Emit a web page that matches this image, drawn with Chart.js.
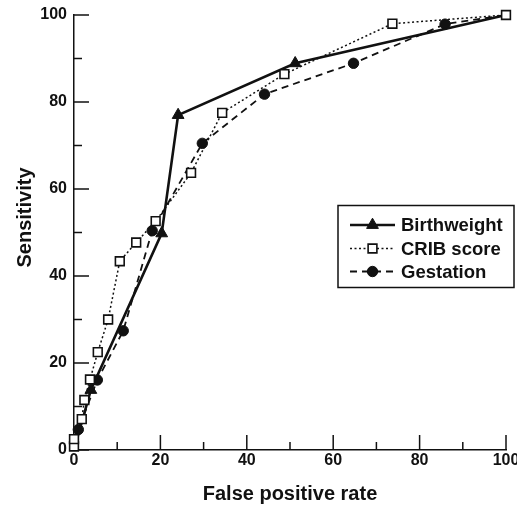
<!DOCTYPE html>
<html><head><meta charset="utf-8">
<script src="https://cdn.jsdelivr.net/npm/chart.js@4"></script>
<style>html,body{margin:0;padding:0;background:#fff;} canvas{display:block}</style>
</head><body>
<canvas id="c" width="517" height="506"></canvas>
<script>
// ---- data ----
const seriesNames = ['Birthweight', 'CRIB score', 'Gestation'];
const birthweightX = [0, 3.9, 20.3, 24.1, 51.2, 100];
const birthweightY = [0, 13.8, 49.8, 77.0, 88.9, 100];
const cribX = [0, 0, 1.8, 2.4, 3.7, 5.5, 7.9, 10.6, 14.4, 18.9, 27.1, 34.3, 48.7, 73.7, 100];
const cribY = [0.8, 2.5, 7.1, 11.5, 16.2, 22.5, 30.0, 43.4, 47.7, 52.6, 63.7, 77.5, 86.4, 98.0, 100];
const gestationX = [0, 1.0, 5.4, 11.4, 18.1, 29.7, 44.1, 64.7, 85.9, 100];
const gestationY = [0, 4.7, 16.1, 27.4, 50.4, 70.5, 81.8, 88.9, 97.9, 100];
const axisTicks = [0, 10, 20, 30, 40, 50, 60, 70, 80, 90, 100];
const xTitle = 'False positive rate';
const yTitle = 'Sensitivity';

const pts = (xs, ys) => xs.map((x, i) => ({x: x, y: ys[i]}));
const INK = '#111';
const FONT = '"Liberation Sans", Arial, Helvetica, sans-serif';
const hideEnds = (r) => (c) => (c.dataIndex === 0 || c.dataIndex === c.dataset.data.length - 1) ? 0 : r;

const datasets = [
  {label: seriesNames[0], data: pts(birthweightX, birthweightY), order: 1,
   borderColor: INK, borderWidth: 2.6, pointStyle: 'triangle', pointRadius: hideEnds(6.8),
   pointBackgroundColor: INK, pointBorderColor: INK, pointBorderWidth: 1, showLine: true, clip: false},
  {label: seriesNames[1], data: pts(cribX, cribY), order: 0,
   borderColor: INK, borderWidth: 1.5, borderDash: [2, 2.5], pointStyle: 'rect', pointRadius: 6.2,
   pointBackgroundColor: '#fff', pointBorderColor: INK, pointBorderWidth: 1.6, showLine: true, clip: false},
  {label: seriesNames[2], data: pts(gestationX, gestationY), order: 2,
   borderColor: INK, borderWidth: 1.8, borderDash: [7, 5], pointStyle: 'circle', pointRadius: hideEnds(5.2),
   pointBackgroundColor: INK, pointBorderColor: INK, pointBorderWidth: 1, showLine: true, clip: false}
];

const tickPlugin = {
  id: 'innerTicks',
  beforeDatasetsDraw(chart) {
    const {ctx, chartArea: ca, scales: {x, y}} = chart;
    ctx.save();
    ctx.strokeStyle = INK; ctx.lineWidth = 1.5;
    axisTicks.forEach(v => {
      const len = v % 20 === 0 ? 15 : 8;
      const px = x.getPixelForValue(v);
      ctx.beginPath(); ctx.moveTo(px, ca.bottom); ctx.lineTo(px, ca.bottom - len); ctx.stroke();
      const py = y.getPixelForValue(v);
      ctx.beginPath(); ctx.moveTo(ca.left, py); ctx.lineTo(ca.left + len, py); ctx.stroke();
    });
    // y axis title
    ctx.fillStyle = INK;
    ctx.font = 'bold 20px ' + FONT;
    ctx.textAlign = 'center'; ctx.textBaseline = 'alphabetic';
    ctx.translate(31, (ca.top + ca.bottom) / 2 - 15);
    ctx.rotate(-Math.PI / 2);
    ctx.fillText(yTitle, 0, 0);
    ctx.restore();
  }
};

const legendPlugin = {
  id: 'boxLegend',
  afterDraw(chart) {
    const ctx = chart.ctx;
    const bx = 338, by = 205.5, bw = 176, bh = 82;
    ctx.save();
    ctx.fillStyle = '#fff';
    ctx.fillRect(bx, by, bw, bh);
    ctx.strokeStyle = INK; ctx.lineWidth = 1.5;
    ctx.strokeRect(bx, by, bw, bh);
    const rows = [225, 248.5, 271.5];
    chart.data.datasets.forEach((ds, i) => {
      const yy = rows[i];
      ctx.save();
      ctx.strokeStyle = ds.borderColor; ctx.lineWidth = ds.borderWidth;
      ctx.setLineDash(ds.borderDash || []);
      ctx.beginPath(); ctx.moveTo(350, yy); ctx.lineTo(395, yy); ctx.stroke();
      ctx.setLineDash([]);
      ctx.fillStyle = ds.pointBackgroundColor; ctx.strokeStyle = ds.pointBorderColor;
      ctx.lineWidth = ds.pointBorderWidth;
      const r = typeof ds.pointRadius === 'function' ? (i === 0 ? 6.8 : 5.2) : ds.pointRadius;
      Chart.helpers.drawPoint(ctx, {pointStyle: ds.pointStyle, radius: r, rotation: 0, borderWidth: ds.pointBorderWidth}, 372.5, yy);
      ctx.restore();
      ctx.fillStyle = INK;
      ctx.font = 'bold 18.5px ' + FONT;
      ctx.textAlign = 'left'; ctx.textBaseline = 'middle';
      ctx.fillText(ds.label, 401, yy + 1);
    });
    ctx.restore();
  }
};

new Chart(document.getElementById('c'), {
  type: 'scatter',
  data: {datasets: datasets},
  options: {
    responsive: false, animation: false, devicePixelRatio: 1,
    layout: {padding: {left: 0, right: 11, top: 15, bottom: 0}},
    plugins: {legend: {display: false}, tooltip: {enabled: false}},
    scales: {
      x: {
        type: 'linear', min: 0, max: 100,
        grid: {display: false, drawTicks: false},
        border: {display: true, color: INK, width: 1.5},
        ticks: {stepSize: 20, padding: 1, color: INK, font: {family: FONT, size: 16, weight: 'bold'}, maxRotation: 0},
        title: {display: true, text: xTitle, color: INK, font: {family: FONT, size: 20, weight: 'bold'}, padding: {top: 0, bottom: 0}},
        afterFit(s) { s.height = 56; s.paddingLeft = 0; s.paddingRight = 0; }
      },
      y: {
        type: 'linear', min: 0, max: 100,
        grid: {display: false, drawTicks: false},
        border: {display: true, color: INK, width: 1.5},
        ticks: {stepSize: 20, padding: 7, color: INK, font: {family: FONT, size: 16, weight: 'bold'}},
        title: {display: false},
        afterFit(s) { s.width = 74; s.paddingTop = 0; s.paddingBottom = 0; }
      }
    }
  },
  plugins: [tickPlugin, legendPlugin]
});
</script>
</body></html>
